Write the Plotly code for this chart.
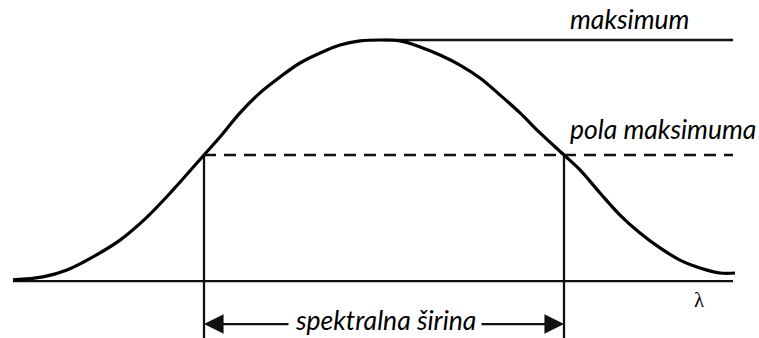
import numpy as np
import plotly.graph_objects as go

# Spectral line profile: wavelength position (arbitrary units) and relative intensity
wavelength = [13, 43, 67, 93, 120, 147, 173, 204, 220, 240, 260, 280, 300, 320, 340,
              360, 383, 400, 420, 440, 460, 480, 500, 520, 540, 564, 580, 600, 620,
              640, 660, 680, 700, 720, 735]
intensity = [-0.043, -0.030, 0.0, 0.057, 0.130, 0.230, 0.348, 0.500, 0.578, 0.683,
             0.770, 0.839, 0.900, 0.943, 0.978, 0.996, 1.0, 0.996, 0.970, 0.935,
             0.891, 0.835, 0.761, 0.683, 0.596, 0.500, 0.435, 0.335, 0.239, 0.161,
             0.096, 0.043, 0.009, -0.013, -0.013]

label_max = "maksimum"
label_half = "pola maksimuma"
label_width = "spektralna širina"
label_axis = "λ"

lam = np.array(wavelength, dtype=float)
inten = np.array(intensity, dtype=float)

peak = inten.max()
peak_x = lam[inten.argmax()]
half = peak / 2.0

# half-maximum crossings on the rising and falling flanks
i_pk = inten.argmax()
x_left = float(np.interp(half, inten[:i_pk + 1], lam[:i_pk + 1]))
x_right = float(np.interp(half, inten[i_pk:][::-1], lam[i_pk:][::-1]))

x_end = 733.0          # right end of the guide lines
axis_level = -0.048    # level of the wavelength axis line
arrow_level = -0.235   # level of the width arrow
y_lo, y_hi = -0.2957, 1.1739

ink = "#111111"
fig = go.Figure()

# wavelength axis
fig.add_trace(go.Scatter(x=[lam[0], x_end], y=[axis_level, axis_level], mode="lines",
                         line=dict(color=ink, width=2.3), hoverinfo="skip"))
# maximum level
fig.add_trace(go.Scatter(x=[peak_x, x_end], y=[peak, peak], mode="lines",
                         line=dict(color=ink, width=2.3), hoverinfo="skip"))
# half-maximum level
fig.add_trace(go.Scatter(x=[x_left, x_end], y=[half, half], mode="lines",
                         line=dict(color=ink, width=2.3, dash="12px,8px"), hoverinfo="skip"))
# verticals at the half-maximum points
for xv in (x_left, x_right):
    fig.add_trace(go.Scatter(x=[xv, xv], y=[half, y_lo - 0.05], mode="lines",
                             line=dict(color=ink, width=2.3), hoverinfo="skip"))
# line profile
fig.add_trace(go.Scatter(x=lam, y=inten, mode="lines",
                         line=dict(color="black", width=3.2, shape="spline", smoothing=1.0),
                         hoverinfo="skip"))

font_it = dict(family="Lato, 'Open Sans', sans-serif", size=26.5, color="black")

annotations = [
    dict(x=568, y=1.0913, text=f"<i>{label_max}</i>", showarrow=False,
         xanchor="left", yanchor="middle", font=font_it),
    dict(x=568, y=0.613, text=f"<i>{label_half}</i>", showarrow=False,
         xanchor="left", yanchor="middle", font=font_it),
    dict(x=(x_left + x_right) / 2 + 1, y=-0.218, text=f"<i>{label_width}</i>", showarrow=False,
         xanchor="center", yanchor="middle", font=font_it),
    dict(x=699, y=-0.130, text=label_axis, showarrow=False, xanchor="center",
         yanchor="middle", font=dict(family="Liberation Serif, serif", size=21, color="black")),
    # width arrows pointing outwards to the half-maximum points
    dict(x=x_left, y=arrow_level, ax=290, ay=arrow_level, xref="x", yref="y",
         axref="x", ayref="y", text="", showarrow=True, arrowhead=2,
         arrowwidth=2.3, arrowsize=1.7, arrowcolor=ink),
    dict(x=x_right, y=arrow_level, ax=480, ay=arrow_level, xref="x", yref="y",
         axref="x", ayref="y", text="", showarrow=True, arrowhead=2,
         arrowwidth=2.3, arrowsize=1.7, arrowcolor=ink),
]

fig.update_layout(
    width=759, height=338,
    margin=dict(l=0, r=0, t=0, b=0),
    paper_bgcolor="white", plot_bgcolor="white",
    showlegend=False,
    xaxis=dict(range=[0, 759], visible=False, fixedrange=True),
    yaxis=dict(range=[y_lo, y_hi], visible=False, fixedrange=True),
    annotations=annotations,
)

fig.write_html("out.html", config={"displayModeBar": False})
